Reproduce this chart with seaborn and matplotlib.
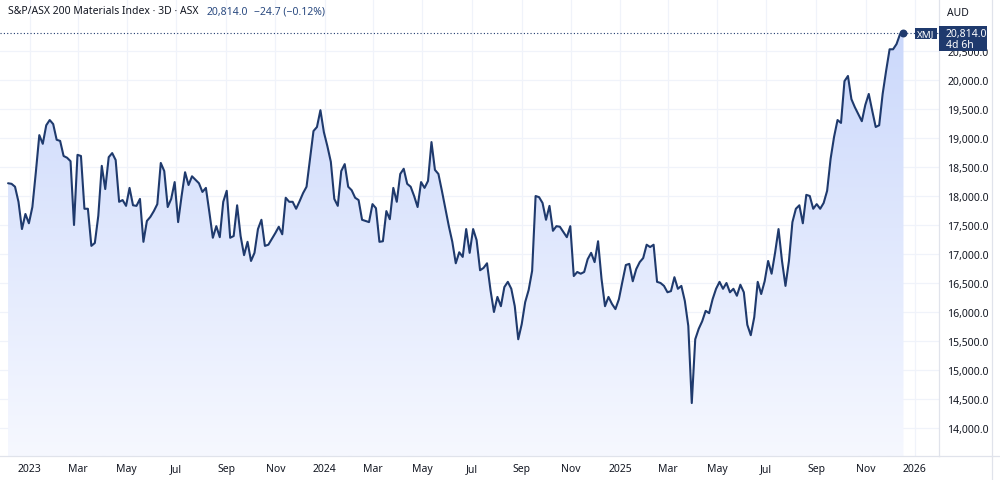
import numpy as np
import pandas as pd
import matplotlib
matplotlib.use("Agg")
import matplotlib.pyplot as plt
import matplotlib.dates as mdates
from matplotlib.colors import LinearSegmentedColormap
from matplotlib.patches import Rectangle
from matplotlib.lines import Line2D
import seaborn as sns

# ---------------- data ----------------
title_text = "S&P/ASX 200 Materials Index · 3D · ASX"
ticker = "XMJ"
countdown = "4d 6h"
currency = "AUD"
last_price = 20814.0
change = -24.7
change_pct = -0.12

start_date = "2022-12-05"
end_date = "2025-12-18"

values = [
    18220, 18210, 18160, 17900, 17430, 17690, 17530, 17810, 18410, 19050,
    18900, 19220, 19310, 19240, 18970, 18950, 18690, 18660, 18600, 17500,
    18710, 18690, 17780, 17780, 17140, 17190, 17660, 18520, 18120, 18670,
    18740, 18620, 17900, 17930, 17830, 18140, 17840, 17830, 17950, 17210,
    17570, 17640, 17740, 17860, 18570, 18430, 17810, 17950, 18240, 17550,
    18000, 18410, 18190, 18340, 18280, 18220, 18070, 18140, 17720, 17280,
    17480, 17290, 17900, 18090, 17280, 17310, 17840, 17310, 16980, 17210,
    16880, 17020, 17430, 17590, 17140, 17160, 17260, 17360, 17470, 17340,
    17970, 17900, 17900, 17780, 17910, 18050, 18160, 18640, 19120, 19190,
    19480, 19100, 18860, 18590, 17950, 17830, 18430, 18550, 18160, 18100,
    17970, 17930, 17590, 17570, 17550, 17860, 17790, 17210, 17220, 17740,
    17600, 18140, 17900, 18380, 18470, 18210, 18160, 18000, 17810, 18240,
    18140, 18260, 18930, 18450, 18380, 18090, 17780, 17480, 17210, 16840,
    17030, 16950, 17430, 17020, 17430, 17240, 16720, 16760, 16840, 16380,
    16000, 16260, 16100, 16430, 16520, 16400, 16100, 15530, 15790, 16170,
    16380, 16710, 18000, 17980, 17880, 17590, 17830, 17400, 17480, 17470,
    17380, 17290, 17480, 16620, 16690, 16660, 16690, 16910, 17020, 16860,
    17220, 16570, 16100, 16260, 16140, 16050, 16220, 16520, 16810, 16830,
    16530, 16740, 16860, 16930, 17160, 17120, 17160, 16520, 16500, 16450,
    16340, 16360, 16600, 16400, 16450, 16190, 15760, 14430,
    15530, 15710, 15840, 16020, 15980, 16220, 16400, 16520, 16400, 16500,
    16340, 16400, 16280, 16470, 16340, 15780, 15600, 15910, 16520, 16310,
    16530, 16880, 16660, 17020, 17430, 16880, 16450, 16880, 17550, 17780,
    17840, 17530, 18020, 18000, 17780, 17860, 17780, 17880, 18090, 18640,
    19020, 19310, 19260, 19980, 20070, 19670, 19530, 19410, 19290, 19570,
    19760, 19470, 19190, 19220, 19760, 20160, 20530, 20530, 20620, 20790,
    20814,
]

y_ticks = [14000, 14500, 15000, 15500, 16000, 16500, 17000, 17500,
           18000, 18500, 19000, 19500, 20000, 20500]
x_tick_dates = ["2023-01-01", "2023-03-01", "2023-05-01", "2023-07-01",
                "2023-09-01", "2023-11-01", "2024-01-01", "2024-03-01",
                "2024-05-01", "2024-07-01", "2024-09-01", "2024-11-01",
                "2025-01-01", "2025-03-01", "2025-05-01", "2025-07-01",
                "2025-09-01", "2025-11-01", "2026-01-01"]
x_tick_labels = ["2023", "Mar", "May", "Jul", "Sep", "Nov",
                 "2024", "Mar", "May", "Jul", "Sep", "Nov",
                 "2025", "Mar", "May", "Jul", "Sep", "Nov", "2026"]

x_limits = ("2022-11-25", "2026-01-31")
y_limits = (13517, 21397)

# ---------------- styling ----------------
line_color = "#1f3a6d"
text_color = "#131722"
grid_color = "#f0f3fa"
border_color = "#e0e3eb"

dates = pd.date_range(start_date, end_date, periods=len(values))
df = pd.DataFrame({"date": dates, "price": values})

sns.set_theme(style="white")
plt.rcParams["font.family"] = ["Noto Sans", "DejaVu Sans"]

W, H = 1000, 481
fig = plt.figure(figsize=(W / 100, H / 100), dpi=100)
fig.patch.set_facecolor("white")
ax = fig.add_axes([0, 24 / H, 939 / W, 1 - 24 / H])
ax.set_facecolor("white")

sns.lineplot(data=df, x="date", y="price", ax=ax, color=line_color,
             linewidth=1.5, zorder=4)

xl = [pd.Timestamp(d) for d in x_limits]
ax.set_xlim(xl[0], xl[1])
ax.set_ylim(*y_limits)

# gradient fill under the line
poly = ax.fill_between(df["date"], df["price"], y_limits[0],
                       facecolor="none", edgecolor="none")
clip_path = poly.get_paths()[0]
grad = np.linspace(0, 1, 256).reshape(-1, 1)
cmap = LinearSegmentedColormap.from_list("area", ["#f6f8ff", "#c8d6fb"])
xn = mdates.date2num(xl)
im = ax.imshow(grad, extent=[xn[0], xn[1], y_limits[0], y_limits[1]],
               origin="lower", aspect="auto", cmap=cmap, zorder=2,
               interpolation="bilinear")
im.set_clip_path(clip_path, transform=ax.transData)
ax.set_xlim(xl[0], xl[1])
ax.set_ylim(*y_limits)

# last-price dotted line and marker
ax.axhline(last_price, color=line_color, linestyle=(0, (1, 2)),
           linewidth=0.8, zorder=3)
ax.scatter([df["date"].iloc[-1]], [df["price"].iloc[-1]], s=22,
           color=line_color, zorder=5)

# ticks
ax.set_xticks([pd.Timestamp(d) for d in x_tick_dates])
ax.set_xticklabels(x_tick_labels)
for lbl in ax.get_xticklabels():
    lbl.set_fontsize(7.5)
    lbl.set_color(text_color)
    if lbl.get_text().isdigit():
        lbl.set_fontweight("bold")
ax.yaxis.tick_right()
ax.set_yticks(y_ticks)
ax.set_yticklabels([f"{v:,.1f}" for v in y_ticks])
for lbl in ax.get_yticklabels():
    lbl.set_fontsize(7.5)
    lbl.set_color(text_color)
ax.tick_params(axis="both", length=0)
ax.tick_params(axis="x", pad=5)
ax.tick_params(axis="y", pad=6)
ax.set_xlabel("")
ax.set_ylabel("")

ax.grid(True, color=grid_color, linewidth=0.9, zorder=0)
ax.set_axisbelow(True)
for s in ["top", "left"]:
    ax.spines[s].set_visible(False)
for s in ["right", "bottom"]:
    ax.spines[s].set_color(border_color)
    ax.spines[s].set_linewidth(0.9)

# far-right separator
fig.add_artist(Line2D([992 / W, 992 / W], [0, 1], color=border_color,
                      linewidth=0.9, transform=fig.transFigure))
fig.add_artist(Line2D([939 / W, 1], [24 / H, 24 / H], color=border_color,
                      linewidth=0.9, transform=fig.transFigure))


def fx(px):
    return px / W


def fy(py):
    return 1 - py / H


# header texts
t1 = fig.text(fx(8), fy(12), title_text, fontsize=7.5, color=text_color,
              va="center", ha="left")
fig.canvas.draw()
r = fig.canvas.get_renderer()
x_end = t1.get_window_extent(r).x1
t2 = fig.text((x_end + 8) / W, fy(12), f"{last_price:,.1f}", fontsize=7.5,
              color="#2a4a80", va="center", ha="left")
fig.canvas.draw()
x_end = t2.get_window_extent(r).x1
sign = "\u2212" if change < 0 else "+"
t3 = fig.text((x_end + 6) / W, fy(12),
              f"{sign}{abs(change):.1f} ({sign}{abs(change_pct):.2f}%)",
              fontsize=7.5, color="#2a4a80", va="center", ha="left")
fig.text(fx(947), fy(13), currency, fontsize=7.5, color=text_color,
         va="center", ha="left")

# price label boxes
box_color = "#1f3a6d"
fig.add_artist(Rectangle((fx(915), fy(40)), 22 / W, 11 / H,
                         transform=fig.transFigure, facecolor=box_color,
                         edgecolor="none", zorder=6))
fig.text(fx(926), fy(34.5), ticker, fontsize=7, color="white",
         fontweight="bold", va="center", ha="center", zorder=7)
fig.add_artist(Rectangle((fx(939), fy(52)), 48 / W, 25 / H,
                         transform=fig.transFigure, facecolor=box_color,
                         edgecolor="none", zorder=6))
fig.text(fx(946), fy(34), f"{last_price:,.1f}", fontsize=7.5, color="white",
         fontweight="bold", va="center", ha="left", zorder=7)
fig.text(fx(946), fy(45.5), countdown, fontsize=7.5, color="white",
         va="center", ha="left", zorder=7)

fig.savefig("out.png", dpi=100, facecolor="white")
